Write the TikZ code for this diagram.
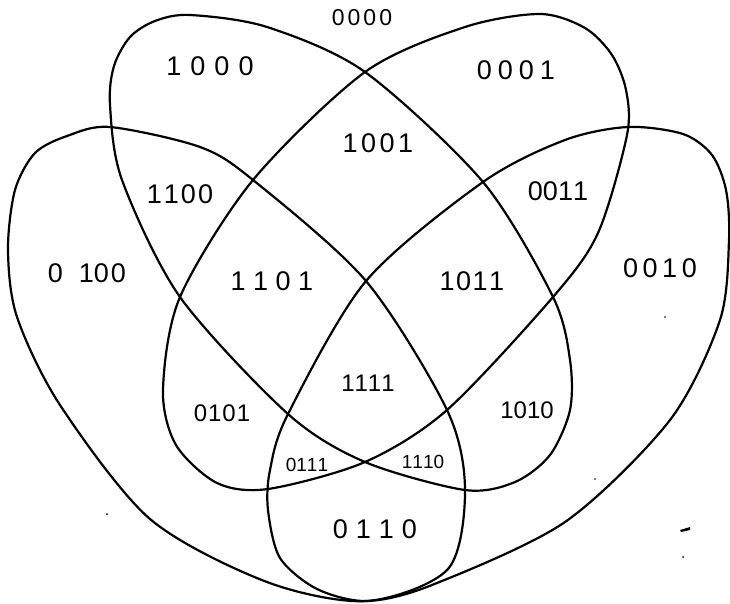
\documentclass[tikz,border=0pt]{standalone}
\usepackage{fontspec}
\setmainfont{Liberation Sans}
\newcommand\bits[5]{#2\kern#1#3\kern#1#4\kern#1#5}
\begin{document}
\begin{tikzpicture}[x=1pt,y=-1pt,
  curve/.style={line width=2.2pt, line join=round},
  lbl/.style={inner sep=0pt, font=\fontsize{27}{27}\selectfont},
  mid/.style={inner sep=0pt, font=\fontsize{24}{24}\selectfont},
  small/.style={inner sep=0pt, font=\fontsize{19}{19}\selectfont}]
\useasboundingbox (0,0) rectangle (730,604);
% bit 1 (1000)
\draw[curve] plot[smooth cycle] coordinates {
 (110,105) (114,66) (130,37) (155,21) (190,15) (267,27) (365,72) (483,182)
 (553,297) (570,360) (570,410) (550,455) (515,482) (465,490) (365,462)
 (288,414) (180,297) (122,180)};
% bit 4 (0001)
\draw[curve] plot[smooth cycle] coordinates {
 (365,72) (465,27) (540,14) (585,28) (612,55) (626,90) (627,135) (598,233)
 (553,297) (447,410) (365,462) (268,489) (217,483) (176,445) (163,390)
 (180,297) (253,180)};
% bit 2 (0100)
\draw[curve] plot[smooth cycle] coordinates {
 (8,250) (15,190) (35,153) (67,136) (110,127) (200,147) (253,180) (366,281)
 (447,410) (465,490) (448,569) (367,601) (267,582) (150,519) (60,405) (17,317)};
% bit 3 (0010)
\draw[curve] plot[smooth cycle] coordinates {
 (628,127) (683,134) (712,155) (726,190) (729,240) (720,320) (670,420)
 (565,522) (432,585) (367,601) (317,589) (280,558) (268,510) (270,470)
 (288,414) (366,281) (483,182) (565,140)};
% labels
\node[lbl, font=\fontsize{23}{23}\selectfont] (l0000) at (362,18) {\bits{3pt}0000};
\node[lbl] (l1000) at (210,66) {\bits{9pt}1000};
\node[lbl] (l0001) at (516,70) {\bits{6pt}0001};
\node[lbl] (l1001) at (378,143) {\bits{3.5pt}1001};
\node[lbl] (l1100) at (180,194) {\bits{2pt}1100};
\node[lbl] (l0011) at (558,191) {\bits{0pt}0011};
\node[lbl] (l0100) at (87,273) {0\kern16pt1\kern0pt0\kern2pt0};
\node[lbl] (l1101) at (272,281) {\bits{7.5pt}1101};
\node[lbl] (l1011) at (472,281) {\bits{1.5pt}1011};
\node[lbl] (l0010) at (660,268) {\bits{4.5pt}0010};
\node[mid] (l1111) at (368,383) {\bits{0pt}1111};
\node[mid] (l0101) at (222,413) {\bits{1pt}0101};
\node[mid] (l1010) at (527,410) {\bits{0pt}1010};
\node[small] (l0111) at (307,465) {\bits{0pt}0111};
\node[small] (l1110) at (423,462) {\bits{0pt}1110};
\node[lbl] (l0110) at (375,529) {\bits{8pt}0110};
% specks
\fill (680,530) -- (690,527) -- (690,530) -- (681,532) -- cycle;
\fill (683,557) circle (1pt);
\fill (107,514) circle (1pt);
\fill (665,317) circle (0.8pt);
\fill (595,479) circle (0.8pt);
\end{tikzpicture}
\end{document}
